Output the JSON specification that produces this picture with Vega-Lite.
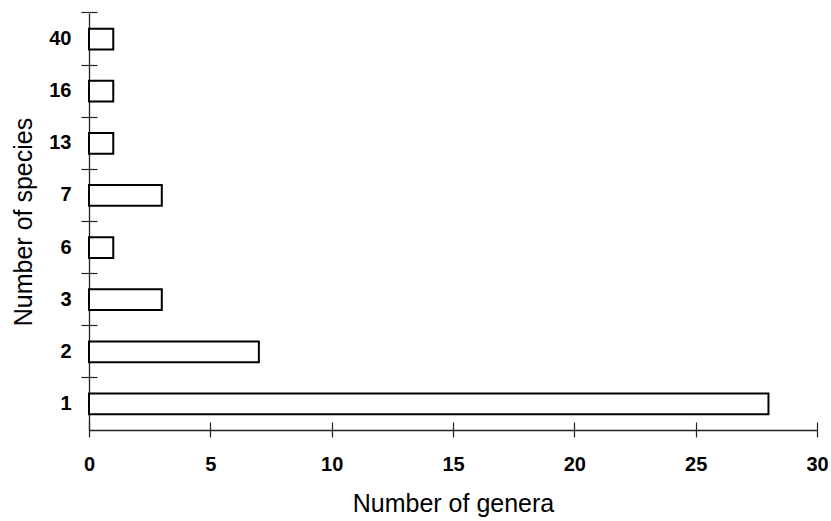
{
  "$schema": "https://vega.github.io/schema/vega-lite/v6.json",
  "width": 728,
  "height": 417,
  "autosize": {"type": "none"},
  "padding": {"left": 89, "top": 13, "right": 14, "bottom": 91},
  "background": "white",
  "config": {
    "view": {"stroke": null},
    "font": "Liberation Sans",
    "axis": {"domainColor": "#222", "tickColor": "#222", "domainWidth": 1.3, "tickWidth": 1.2, "grid": false, "labelColor": "black", "titleColor": "black"}
  },
  "data": {
    "values": [
      {"species": 1, "genera": 28},
      {"species": 2, "genera": 7},
      {"species": 3, "genera": 3},
      {"species": 6, "genera": 1},
      {"species": 7, "genera": 3},
      {"species": 13, "genera": 1},
      {"species": 16, "genera": 1},
      {"species": 40, "genera": 1}
    ]
  },
  "resolve": {"axis": {"x": "independent", "y": "independent"}},
  "layer": [
    {
      "mark": {"type": "bar", "fill": "white", "stroke": "black", "strokeWidth": 2},
      "encoding": {
        "y": {
          "field": "species",
          "type": "ordinal",
          "sort": "descending",
          "scale": {"paddingInner": 0.6, "paddingOuter": 0.3},
          "axis": {
            "orient": "left",
            "title": "Number of species",
            "titleFontSize": 25,
            "titleFontWeight": "normal",
            "titlePadding": 12,
            "labelFontSize": 20,
            "labelFontWeight": "bold",
            "labelPadding": 18,
            "ticks": false,
            "labelAngle": 0
          }
        },
        "x": {
          "field": "genera",
          "type": "quantitative",
          "scale": {"domain": [0, 30], "nice": false},
          "axis": {
            "orient": "bottom",
            "title": "Number of genera",
            "titleFontSize": 25,
            "titleFontWeight": "normal",
            "titlePadding": 17,
            "values": [0, 5, 10, 15, 20, 25, 30],
            "labelFontSize": 20,
            "labelFontWeight": "bold",
            "labelPadding": 17,
            "tickSize": 7,
            "labelFlush": false
          }
        }
      }
    },
    {
      "mark": {"type": "bar", "opacity": 0},
      "encoding": {
        "y": {
          "field": "species",
          "type": "ordinal",
          "sort": "descending",
          "scale": {"paddingInner": 0.6, "paddingOuter": 0.3},
          "axis": {
            "orient": "left",
            "title": null,
            "labels": false,
            "domain": false,
            "tickSize": 8,
            "bandPosition": -0.75
          }
        },
        "x": {
          "field": "genera",
          "type": "quantitative",
          "scale": {"domain": [0, 30], "nice": false},
          "axis": {
            "orient": "bottom",
            "title": null,
            "labels": false,
            "domain": false,
            "values": [0, 5, 10, 15, 20, 25, 30],
            "tickSize": -8
          }
        }
      }
    },
    {
      "mark": {"type": "bar", "opacity": 0},
      "encoding": {
        "y": {
          "field": "species",
          "type": "ordinal",
          "sort": "descending",
          "scale": {"paddingInner": 0.6, "paddingOuter": 0.3},
          "axis": {
            "orient": "left",
            "title": null,
            "labels": false,
            "domain": false,
            "tickSize": -8,
            "bandPosition": -0.75
          }
        },
        "x": {
          "field": "genera",
          "type": "quantitative",
          "scale": {"domain": [0, 30], "nice": false},
          "axis": null
        }
      }
    }
  ]
}
